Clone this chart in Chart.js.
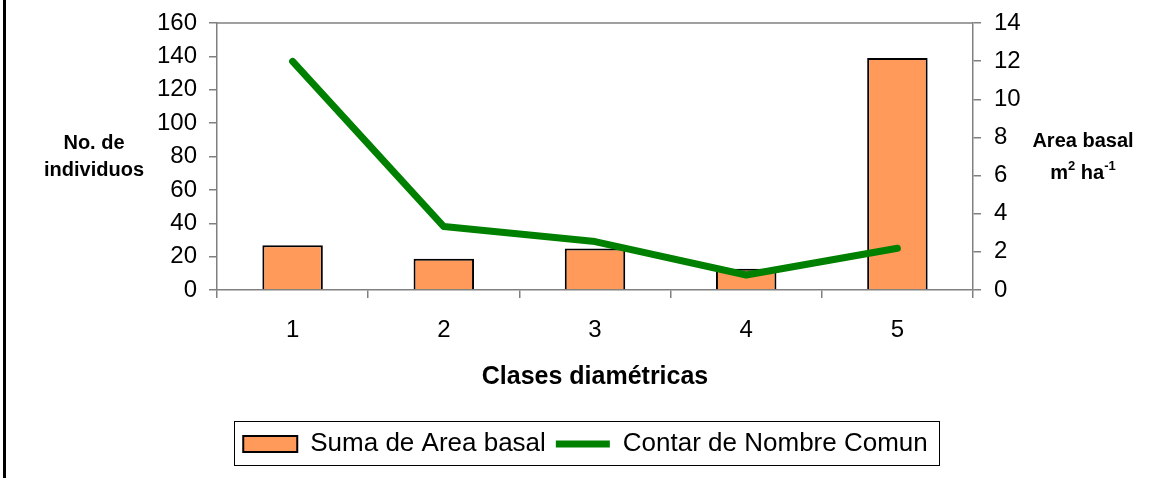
<!DOCTYPE html>
<html>
<head>
<meta charset="utf-8">
<script src="https://cdn.jsdelivr.net/npm/chart.js@4/dist/chart.umd.min.js"></script>
<style>
html,body{margin:0;padding:0;background:#fff}
#wrap{width:1171px;height:478px;position:relative}
</style>
</head>
<body>
<div id="wrap"><canvas id="chart" width="1171" height="478"></canvas></div>
<script>
// datos
var categories = ['1', '2', '3', '4', '5'];
var areaBasal = [2.34, 1.64, 2.17, 1.12, 12.17];      // m2 ha-1 (eje derecho)
var individuos = [137, 38, 29, 9, 25];                 // No. de individuos (eje izquierdo)
var leftTicks = [0, 20, 40, 60, 80, 100, 120, 140, 160];
var rightTicks = [0, 2, 4, 6, 8, 10, 12, 14];

var FONT = "'Liberation Sans', Arial, sans-serif";
var GRAY = '#808080';

var decor = {
    id: 'decor',
    beforeDraw: function(chart){
        var c = chart.ctx;
        c.save();
        c.fillStyle = '#fff';
        c.fillRect(0, 0, chart.width, chart.height);
        c.fillStyle = '#000';
        c.fillRect(3, 0, 3, chart.height);
        c.restore();
    },
    afterDraw: function(chart){
        var c = chart.ctx, a = chart.chartArea;
        c.save();
        // borde superior del area de trazado
        c.strokeStyle = GRAY;
        c.lineWidth = 1.5;
        c.beginPath();
        c.moveTo(a.left, a.top);
        c.lineTo(a.right, a.top);
        c.stroke();

        // titulos de los ejes Y (horizontales)
        c.fillStyle = '#000';
        c.textAlign = 'center';
        c.textBaseline = 'middle';
        c.font = 'bold 20px ' + FONT;
        c.fillText('No. de', 94, 143);
        c.fillText('individuos', 94, 170);
        c.fillText('Area basal', 1083, 141);

        // m2 ha-1 con superindices
        var big = 'bold 20px ' + FONT, small = 'bold 13px ' + FONT;
        var parts = [['m', big, 0], ['2', small, -7], [' ha', big, 0], ['-1', small, -7]];
        var w = 0;
        parts.forEach(function(p){ c.font = p[1]; w += c.measureText(p[0]).width; });
        var x = 1083 - w / 2;
        c.textAlign = 'left';
        parts.forEach(function(p){
            c.font = p[1];
            c.fillText(p[0], x, 173 + p[2]);
            x += c.measureText(p[0]).width;
        });

        // marco de la leyenda
        var hb = chart.legend.legendHitBoxes;
        if(hb && hb.length){
            var l = hb[0].left - 9, r = hb[hb.length-1].left + hb[hb.length-1].width + 11;
            var t = hb[0].top - 10, b = hb[0].top + hb[0].height + 8;
            c.strokeStyle = '#000';
            c.lineWidth = 1;
            c.strokeRect(Math.round(l) + 0.5, Math.round(t) + 0.5, Math.round(r - l), Math.round(b - t));
        }
        c.restore();
    }
};

function noPad(s){ s.paddingTop = 0; s.paddingBottom = 0; }

new Chart(document.getElementById('chart'), {
    type: 'bar',
    data: {
        labels: categories,
        datasets: [{
            type: 'bar',
            label: 'Suma de Area basal',
            data: areaBasal,
            yAxisID: 'y1',
            backgroundColor: '#ff9a5a',
            borderColor: '#000',
            borderWidth: 2,
            barPercentage: 0.4,
            categoryPercentage: 1,
            pointStyle: 'rect',
            order: 1
        }, {
            type: 'line',
            label: 'Contar de Nombre Comun',
            data: individuos,
            yAxisID: 'y',
            borderColor: '#008000',
            backgroundColor: '#008000',
            borderWidth: 7,
            borderCapStyle: 'round',
            borderJoinStyle: 'round',
            pointRadius: 0,
            pointStyle: 'line',
            tension: 0,
            order: 0
        }]
    },
    options: {
        responsive: false,
        animation: false,
        devicePixelRatio: 1,
        layout: { padding: { left: 0, right: 0, top: 23, bottom: 11 } },
        plugins: {
            tooltip: { enabled: false },
            legend: {
                position: 'bottom',
                labels: {
                    usePointStyle: true,
                    pointStyleWidth: 54,
                    boxHeight: 16,
                    padding: 10,
                    color: '#000',
                    font: { family: FONT, size: 26 },
                    sort: function(a, b){ return a.datasetIndex - b.datasetIndex; }
                }
            }
        },
        scales: {
            x: {
                offset: true,
                grid: { display: true, drawOnChartArea: false, tickLength: 8, color: GRAY, lineWidth: 1.5, offset: true },
                border: { color: GRAY, width: 1.5 },
                ticks: { color: '#000', padding: 18, font: { family: FONT, size: 24 } },
                title: { display: true, text: 'Clases diamétricas', color: '#000',
                         font: { family: FONT, size: 25, weight: 'bold' }, padding: { top: 0, bottom: 29 } },
                afterFit: function(s){ s.height = 131; }
            },
            y: {
                position: 'left',
                min: 0, max: 160,
                grid: { drawOnChartArea: false, tickLength: 8, color: GRAY, lineWidth: 1.5 },
                border: { color: GRAY, width: 1.5 },
                ticks: { color: '#000', padding: 12, font: { family: FONT, size: 24 } },
                afterBuildTicks: function(s){ s.ticks = leftTicks.map(function(v){ return { value: v }; }); },
                afterFit: function(s){ s.width = 217; noPad(s); }
            },
            y1: {
                position: 'right',
                min: 0, max: 14,
                grid: { drawOnChartArea: false, tickLength: 8, color: GRAY, lineWidth: 1.5 },
                border: { color: GRAY, width: 1.5 },
                ticks: { color: '#000', padding: 13, font: { family: FONT, size: 24 } },
                afterBuildTicks: function(s){ s.ticks = rightTicks.map(function(v){ return { value: v }; }); },
                afterFit: function(s){ s.width = 198; noPad(s); }
            }
        }
    },
    plugins: [decor]
});
</script>
</body>
</html>
